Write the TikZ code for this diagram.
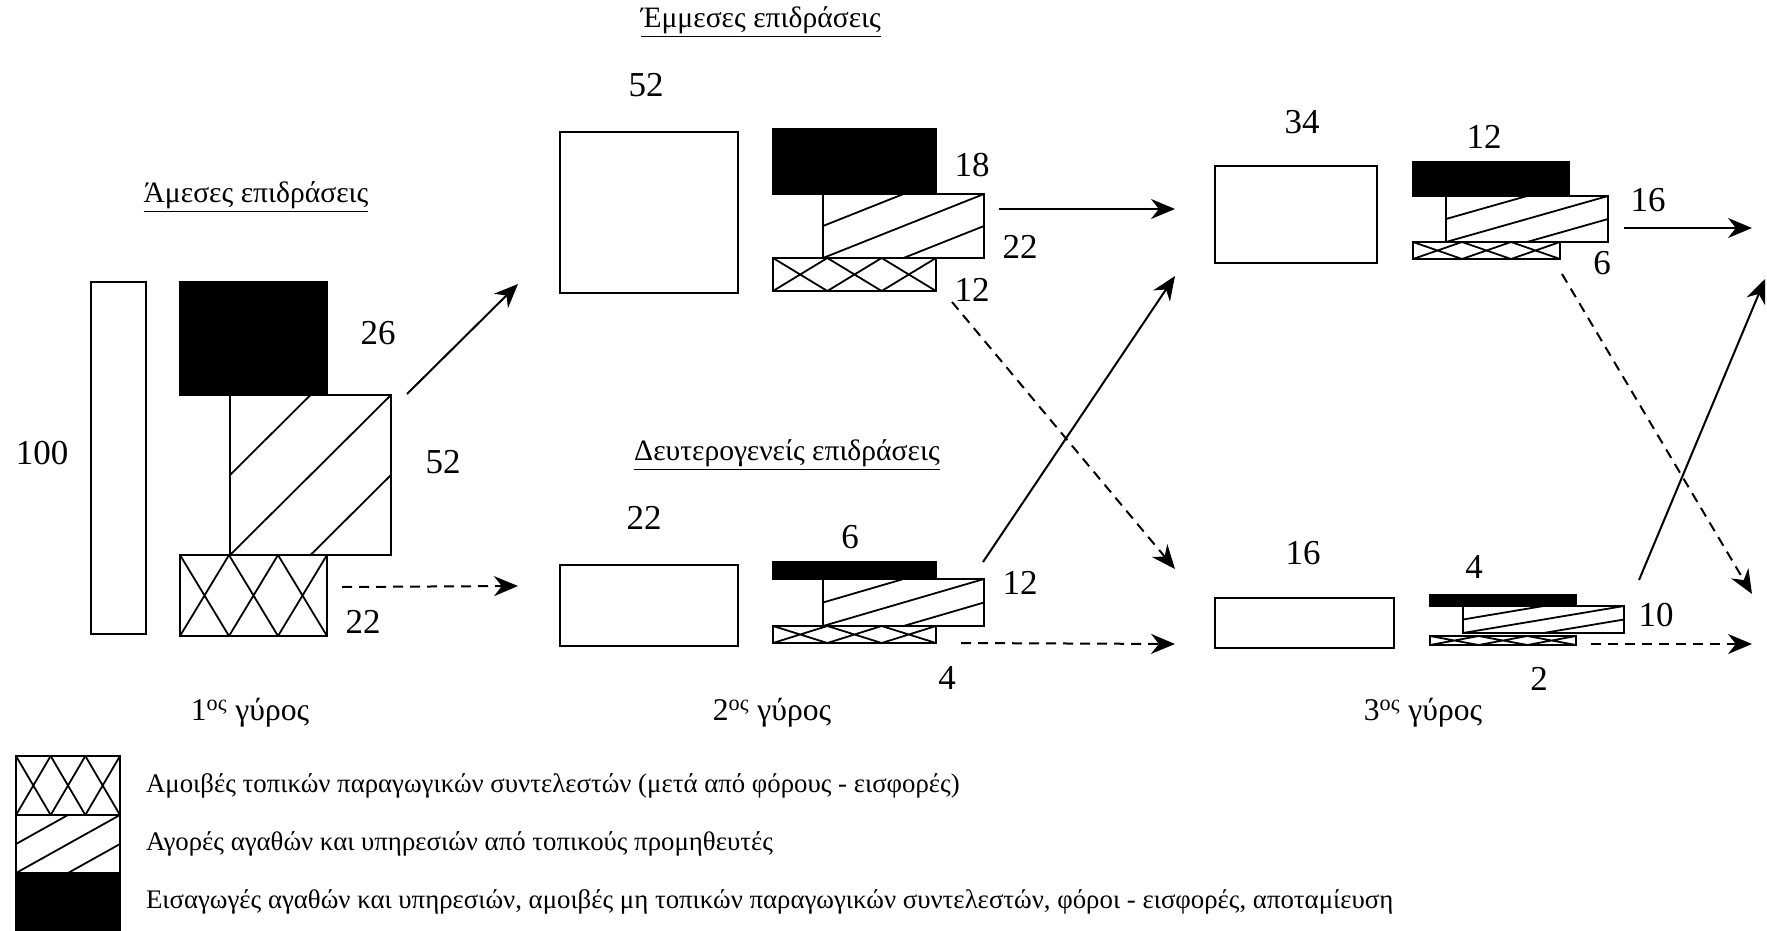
\documentclass[tikz,border=0pt]{standalone}
\usepackage{fontspec}
\setmainfont{Liberation Serif}
\usetikzlibrary{arrows.meta, fit, calc}

\begin{document}
\begin{tikzpicture}[
  x=0.5pt, y=-0.5pt,
  box/.style={rectangle, draw, line width=1pt, inner sep=0pt, outer sep=0pt},
  blank/.style={box, fill=white},
  dark/.style={box, fill=black},
  lined/.style={box, path picture={
    \draw[line width=0.9pt]
      (path picture bounding box.south west) -- (path picture bounding box.north east)
      (path picture bounding box.west) -- (path picture bounding box.north)
      (path picture bounding box.south) -- (path picture bounding box.east);}},
  crossed/.style={box, path picture={
    \foreach \i in {0,1,2} {
      \draw[line width=0.9pt]
        ($(path picture bounding box.south west)!{\i/3}!(path picture bounding box.south east)$) --
        ($(path picture bounding box.north west)!{(\i+1)/3}!(path picture bounding box.north east)$)
        ($(path picture bounding box.north west)!{\i/3}!(path picture bounding box.north east)$) --
        ($(path picture bounding box.south west)!{(\i+1)/3}!(path picture bounding box.south east)$);
    }}},
  num/.style={font=\fontsize{17.5}{20}\selectfont},
  head/.style={font=\fontsize{14.8}{17}\selectfont},
  roundlbl/.style={font=\fontsize{15.8}{18}\selectfont},
  legtxt/.style={anchor=west, font=\fontsize{13.4}{16}\selectfont},
  arr/.style={-{Stealth[length=12pt, width=10pt]}, line width=1pt},
  darr/.style={arr, dash pattern=on 5pt off 3.5pt}
]
\useasboundingbox (0,0) rectangle (1767,931);

% titles
\node[head] (direct) at (256,197) {\underline{Άμεσες επιδράσεις}};
\node[head] (indirect) at (761,22) {\underline{Έμμεσες επιδράσεις}};
\node[head] (induced) at (787,455) {\underline{Δευτερογενείς επιδράσεις}};

% round 1
\node[blank, fit={(91,282) (146,634)}] (total) {};
\node[dark, fit={(180,282) (327,395)}] (leak1) {};
\node[lined, fit={(230,395) (391,555)}] (buy1) {};
\node[crossed, fit={(180,555) (327,636)}] (wage1) {};
\node[num] (v100) at (42,453) {100};
\node[num] (v26) at (378,333) {26};
\node[num] (v52) at (443,462) {52};
\node[num] (v22) at (363,622) {22};

% round 2, indirect
\node[blank, fit={(560,132) (738,293)}] (out2a) {};
\node[dark, fit={(773,129) (936,194)}] (leak2a) {};
\node[lined, fit={(823,194) (984,258)}] (buy2a) {};
\node[crossed, fit={(773,258) (936,291)}] (wage2a) {};
\node[num] (v2a) at (646,85) {52};
\node[num] (v2b) at (972,165) {18};
\node[num] (v2c) at (1020,247) {22};
\node[num] (v2d) at (972,290) {12};

% round 2, induced
\node[blank, fit={(560,565) (738,646)}] (out2b) {};
\node[dark, fit={(773,562) (936,579)}] (leak2b) {};
\node[lined, fit={(823,579) (984,626)}] (buy2b) {};
\node[crossed, fit={(773,626) (936,643)}] (wage2b) {};
\node[num] (v2e) at (644,518) {22};
\node[num] (v2f) at (850,537) {6};
\node[num] (v2g) at (1020,583) {12};
\node[num] (v2h) at (947,678) {4};

% round 3, indirect
\node[blank, fit={(1215,166) (1377,263)}] (out3a) {};
\node[dark, fit={(1413,162) (1569,196)}] (leak3a) {};
\node[lined, fit={(1446,196) (1608,242)}] (buy3a) {};
\node[crossed, fit={(1413,242) (1560,259)}] (wage3a) {};
\node[num] (v3a) at (1302,122) {34};
\node[num] (v3b) at (1484,137) {12};
\node[num] (v3c) at (1648,200) {16};
\node[num] (v3d) at (1602,263) {6};

% round 3, induced
\node[blank, fit={(1215,598) (1394,648)}] (out3b) {};
\node[dark, fit={(1430,595) (1576,606)}] (leak3b) {};
\node[lined, fit={(1463,606) (1624,633)}] (buy3b) {};
\node[crossed, fit={(1430,636) (1576,645)}] (wage3b) {};
\node[num] (v3e) at (1303,553) {16};
\node[num] (v3f) at (1474,567) {4};
\node[num] (v3g) at (1656,615) {10};
\node[num] (v3h) at (1539,679) {2};

% round labels
\node[roundlbl] (r1) at (250,713) {1\textsuperscript{ος} γύρος};
\node[roundlbl] (r2) at (772,713) {2\textsuperscript{ος} γύρος};
\node[roundlbl] (r3) at (1423,713) {3\textsuperscript{ος} γύρος};

% arrow ends
\coordinate (p1) at (407,394);  \coordinate (q1) at (518,284);
\coordinate (p2) at (342,587);  \coordinate (q2) at (518,586);
\coordinate (p3) at (999,209);  \coordinate (q3) at (1175,209);
\coordinate (p4) at (952,302);  \coordinate (q4) at (1175,569);
\coordinate (p5) at (961,643);  \coordinate (q5) at (1175,644);
\coordinate (p6) at (983,562);  \coordinate (q6) at (1175,276);
\coordinate (p7) at (1624,228); \coordinate (q7) at (1752,228);
\coordinate (p8) at (1562,274); \coordinate (q8) at (1752,594);
\coordinate (p9) at (1591,644); \coordinate (q9) at (1752,644);
\coordinate (p10) at (1639,580); \coordinate (q10) at (1765,279);

\draw[arr] (p1) -- (q1);
\draw[darr] (p2) -- (q2);
\draw[arr] (p3) -- (q3);
\draw[darr] (p4) -- (q4);
\draw[darr] (p5) -- (q5);
\draw[arr] (p6) -- (q6);
\draw[arr] (p7) -- (q7);
\draw[darr] (p8) -- (q8);
\draw[darr] (p9) -- (q9);
\draw[arr] (p10) -- (q10);

% legend
\node[crossed, fit={(16,756) (120,815)}] (keywage) {};
\node[lined, fit={(16,815) (120,873)}] (keybuy) {};
\node[dark, fit={(16,873) (120,935)}] (keyleak) {};
\node[legtxt] (lwage) at (139,786) {Αμοιβές τοπικών παραγωγικών συντελεστών (μετά από φόρους - εισφορές)};
\node[legtxt] (lbuy) at (139,844) {Αγορές αγαθών και υπηρεσιών από τοπικούς προμηθευτές};
\node[legtxt] (lleak) at (139,902) {Εισαγωγές αγαθών και υπηρεσιών, αμοιβές μη τοπικών παραγωγικών συντελεστών, φόροι - εισφορές, αποταμίευση};
\end{tikzpicture}
\end{document}
